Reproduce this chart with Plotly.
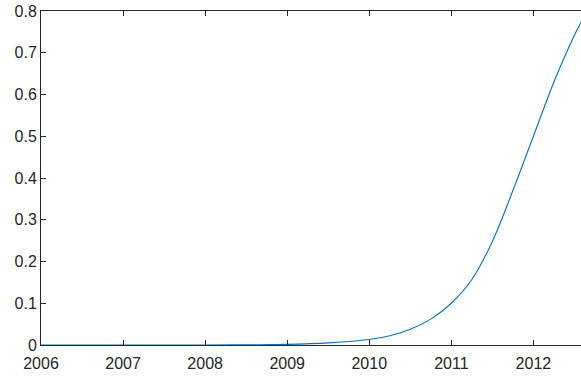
import plotly.graph_objects as go

years = [2006, 2007, 2008, 2008.5, 2009, 2009.5, 2010, 2010.25, 2010.5, 2010.75,
         2011.0, 2011.25, 2011.5, 2011.75, 2012.0, 2012.25, 2012.5, 2012.6]
values = [0.0, 0.0, 0.0, 0.0005, 0.0015, 0.005, 0.013, 0.022, 0.038, 0.062,
          0.100, 0.157, 0.248, 0.370, 0.500, 0.630, 0.742, 0.780]
x_ticks = [2006, 2007, 2008, 2009, 2010, 2011, 2012]
y_ticks = [0, 0.1, 0.2, 0.3, 0.4, 0.5, 0.6, 0.7, 0.8]

fig = go.Figure(go.Scatter(x=years, y=values, mode="lines",
                           line=dict(color="#0072BD", width=1.1, shape="spline", smoothing=1.0),
                           hoverinfo="skip"))

axis_color = "#262626"
fig.update_layout(
    width=581, height=378,
    margin=dict(l=41, r=0, t=11, b=33),
    paper_bgcolor="white", plot_bgcolor="white",
    showlegend=False,
    font=dict(family="Liberation Sans, Arial, sans-serif", size=16, color=axis_color),
    xaxis=dict(range=[2006, 2012.58], tickvals=x_ticks, ticktext=[str(v) for v in x_ticks],
               showgrid=False, zeroline=False, showline=True, linecolor=axis_color, linewidth=1,
               mirror="ticks", ticks="inside", ticklen=5, tickcolor=axis_color, tickwidth=1,
               ticklabelstandoff=4),
    yaxis=dict(range=[0, 0.8], tickvals=y_ticks, ticktext=["0", "0.1", "0.2", "0.3", "0.4", "0.5", "0.6", "0.7", "0.8"],
               showgrid=False, zeroline=False, showline=True, linecolor=axis_color, linewidth=1,
               mirror=False, ticks="inside", ticklen=5, tickcolor=axis_color, tickwidth=1),
)

fig.write_html("out.html", config={"displayModeBar": False},
               post_script="document.body.style.margin='0';")
